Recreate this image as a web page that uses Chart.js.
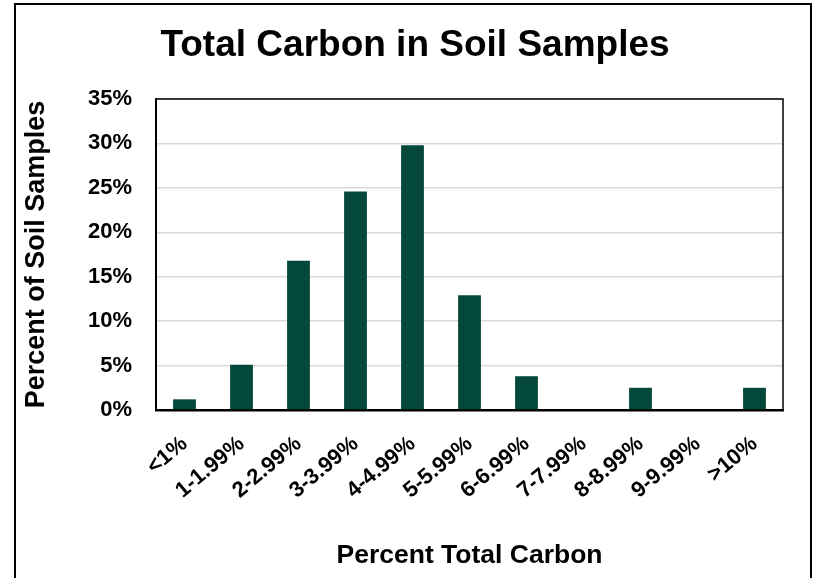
<!DOCTYPE html>
<html>
<head>
<meta charset="utf-8">
<script src="https://cdn.jsdelivr.net/npm/chart.js@4/dist/chart.umd.min.js"></script>
<style>
  html, body { margin: 0; padding: 0; background: #fff; }
  canvas { display: block; }
</style>
</head>
<body>
<canvas id="c" width="817" height="578"></canvas>
<script>
// Share of soil samples in each total-carbon class
const chartTitle = 'Total Carbon in Soil Samples';
const categories = ['<1%', '1-1.99%', '2-2.99%', '3-3.99%', '4-4.99%', '5-5.99%',
                    '6-6.99%', '7-7.99%', '8-8.99%', '9-9.99%', '>10%'];
const samplePercent = [1.2, 5.1, 16.8, 24.6, 29.8, 12.9, 3.8, 0, 2.5, 0, 2.5];
const yTicks = [0, 5, 10, 15, 20, 25, 30, 35];

const FONT = '"Liberation Sans", Arial, Helvetica, sans-serif';
const BAR_COLOR = '#03483a';

// Outer frame, plot border and the chart heading
const decorations = {
  id: 'decorations',
  afterDraw(chart) {
    const { ctx, chartArea: a } = chart;
    ctx.save();
    ctx.strokeStyle = '#000';
    ctx.lineWidth = 2;
    ctx.beginPath();
    ctx.moveTo(15, 600);
    ctx.lineTo(15, 4);
    ctx.lineTo(811, 4);
    ctx.lineTo(811, 600);
    ctx.stroke();

    ctx.lineWidth = 1.5;
    ctx.beginPath();
    ctx.moveTo(a.left, a.top);
    ctx.lineTo(a.right, a.top);
    ctx.lineTo(a.right, a.bottom);
    ctx.stroke();

    ctx.fillStyle = '#000';
    ctx.font = 'bold 37px ' + FONT;
    ctx.textAlign = 'center';
    ctx.textBaseline = 'middle';
    ctx.fillText(chartTitle, 415, 46);
    ctx.restore();
  }
};

new Chart(document.getElementById('c'), {
  type: 'bar',
  data: {
    labels: categories,
    datasets: [{
      data: samplePercent,
      backgroundColor: BAR_COLOR,
      borderWidth: 0,
      barPercentage: 0.4,
      categoryPercentage: 1.0
    }]
  },
  options: {
    responsive: false,
    animation: false,
    devicePixelRatio: 1,
    layout: { padding: { top: 99, right: 34, left: 0, bottom: 0 } },
    plugins: {
      legend: { display: false },
      title: { display: false },
      tooltip: { enabled: false }
    },
    scales: {
      x: {
        grid: { display: false, drawTicks: false },
        border: { color: '#000', width: 2.5 },
        ticks: {
          color: '#000',
          font: { family: FONT, size: 22, weight: 'bold' },
          minRotation: 40,
          maxRotation: 40,
          autoSkip: false,
          padding: 21
        },
        title: {
          display: true,
          text: 'Percent Total Carbon',
          color: '#000',
          font: { family: FONT, size: 26.5, weight: 'bold' },
          padding: { top: 0, bottom: 6 }
        },
        afterFit(scale) { scale.height = 168; }
      },
      y: {
        min: 0,
        max: 35,
        afterBuildTicks(scale) { scale.ticks = yTicks.map(v => ({ value: v })); },
        grid: { color: '#d9d9d9', lineWidth: 1.5, drawTicks: false },
        border: { color: '#000', width: 2 },
        ticks: {
          color: '#000',
          font: { family: FONT, size: 22, weight: 'bold' },
          padding: 24,
          callback: v => v + '%'
        },
        title: {
          display: true,
          text: 'Percent of Soil Samples',
          color: '#000',
          font: { family: FONT, size: 27, weight: 'bold' },
          padding: { top: 20, bottom: 0 }
        },
        afterFit(scale) { scale.width = 156; }
      }
    }
  },
  plugins: [decorations]
});
</script>
</body>
</html>
